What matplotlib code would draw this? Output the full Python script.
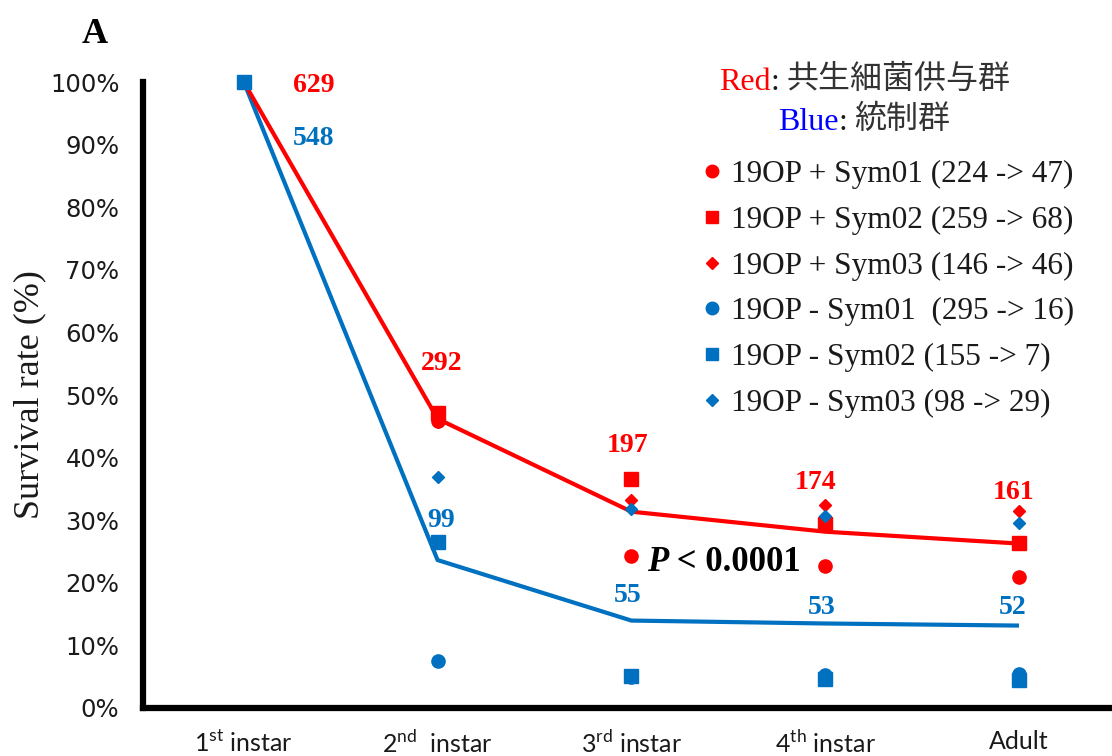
import matplotlib
matplotlib.use("Agg")
import matplotlib.pyplot as plt
from matplotlib.lines import Line2D
import numpy as np

# 発育段階
stages = [r"1$^{\rm st}$ instar", r"2$^{\rm nd}$  instar", r"3$^{\rm rd}$ instar",
          r"4$^{\rm th}$ instar", "Adult"]

# 共生細菌供与群 (red) – 各系統の生存率
sym_plus_01 = [1.000, 0.458, 0.243, 0.227, 0.210]
sym_plus_02 = [1.000, 0.471, 0.366, 0.294, 0.263]
sym_plus_03 = [1.000, 0.457, 0.332, 0.324, 0.315]

# 統制群 (blue)
sym_minus_01 = [1.000, 0.075, 0.050, 0.052, 0.054]
sym_minus_02 = [1.000, 0.265, 0.051, 0.046, 0.045]
sym_minus_03 = [1.000, 0.369, 0.318, 0.307, 0.296]

# 個体数
red_counts = [629, 292, 197, 174, 161]
blue_counts = [548, 99, 55, 53, 52]

legend_labels = [
    "19OP + Sym01 (224 -> 47)",
    "19OP + Sym02 (259 -> 68)",
    "19OP + Sym03 (146 -> 46)",
    "19OP - Sym01  (295 -> 16)",
    "19OP - Sym02 (155 -> 7)",
    "19OP - Sym03 (98 -> 29)",
]

RED = "#FF0000"
BLUE = "#0070C0"
TEXT = "#1a1a1a"
SERIF = "Liberation Serif"

plt.rcParams["mathtext.fontset"] = "custom"
plt.rcParams["mathtext.rm"] = "Lato"

fig = plt.figure(figsize=(11.12, 7.56), dpi=100)
ax = fig.add_axes([0.1286, 0.0635, 0.8714, 0.828])

x = np.arange(len(stages))
red_mean = np.mean([sym_plus_01, sym_plus_02, sym_plus_03], axis=0)
blue_mean = np.mean([sym_minus_01, sym_minus_02, sym_minus_03], axis=0)

ax.plot(x, blue_mean, color=BLUE, lw=3, zorder=2, solid_capstyle="butt")
ax.plot(x, red_mean, color=RED, lw=3, zorder=2, solid_capstyle="butt")

marker_sets = [
    (sym_plus_01, RED, "o", 9.5),
    (sym_plus_03, RED, "D", 6.5),
    (sym_plus_02, RED, "s", 9.5),
    (sym_minus_03, BLUE, "D", 6.5),
    (sym_minus_01, BLUE, "o", 9.5),
    (sym_minus_02, BLUE, "s", 9.5),
]
for vals, col, mk, ms in marker_sets:
    ax.plot(x[1:], vals[1:], ls="none", marker=mk, ms=ms, color=col, mec=col, zorder=3)
ax.plot([0], [1.0], ls="none", marker="s", ms=9.5, color=BLUE, zorder=4)

# 個体数ラベル
red_lbl_pos = [(0.36, 0.995), (1.02, 0.55), (1.98, 0.42), (2.95, 0.36), (3.97, 0.345)]
blue_lbl_pos = [(0.36, 0.91), (1.02, 0.30), (1.98, 0.18), (2.98, 0.16), (3.97, 0.16)]
for (px, py), c in zip(red_lbl_pos, red_counts):
    ax.text(px, py, str(c), color=RED, fontsize=20, fontweight="bold",
            family=SERIF, ha="center", va="center")
for (px, py), c in zip(blue_lbl_pos, blue_counts):
    ax.text(px, py, str(c), color=BLUE, fontsize=20, fontweight="bold",
            family=SERIF, ha="center", va="center")

# 有意差
ax.text(2.19, 0.232, "P", fontsize=25, fontweight="bold", style="italic",
        family=SERIF, ha="right", va="center", color="black")
ax.text(2.19, 0.232, " < 0.0001", fontsize=25, fontweight="bold",
        family=SERIF, ha="left", va="center", color="black")

# 凡例
handles = [Line2D([], [], ls="none", marker=mk, ms=ms, color=col)
           for mk, ms, col in [("o", 9, RED), ("s", 8.5, RED), ("D", 6, RED),
                               ("o", 9, BLUE), ("s", 8.5, BLUE), ("D", 6, BLUE)]]
leg = ax.legend(handles, legend_labels, loc="upper left", bbox_to_anchor=(0.565, 0.895),
                frameon=False, prop={"family": SERIF, "size": 22.5},
                handlelength=0.55, handletextpad=0.35, labelspacing=0.53,
                borderaxespad=0)
for t in leg.get_texts():
    t.set_color(TEXT)

# 群の説明
cjk = ["Noto Sans CJK JP", "DejaVu Sans"]
t1 = ax.text(0.594, 0.999, "Red", transform=ax.transAxes, color=RED, fontsize=23,
             family=SERIF, ha="left", va="center")
t2 = ax.annotate(":", xy=(1, 0), xycoords=t1, ha="left", va="bottom",
                 fontsize=23, family=SERIF, color=TEXT)
ax.annotate("共生細菌供与群", xy=(1, 0.08), xycoords=t2, xytext=(5, 0),
            textcoords="offset points", ha="left", va="bottom",
            fontsize=23, family=cjk, color="#333333")
b1 = ax.text(0.655, 0.935, "Blue", transform=ax.transAxes, color="#0000FF", fontsize=23,
             family=SERIF, ha="left", va="center")
b2 = ax.annotate(":", xy=(1, 0), xycoords=b1, ha="left", va="bottom",
                 fontsize=23, family=SERIF, color=TEXT)
ax.annotate("統制群", xy=(1, 0.08), xycoords=b2, xytext=(5, 0),
            textcoords="offset points", ha="left", va="bottom",
            fontsize=23, family=cjk, color="#333333")

# 軸
ax.set_xlim(-0.52, 4.48)
ax.set_ylim(0, 1.0)
ax.set_yticks(np.arange(0, 1.01, 0.1))
ax.set_yticklabels([f"{int(round(v * 100))}%" for v in np.arange(0, 1.01, 0.1)],
                   family="DejaVu Sans", fontsize=17.5, color=TEXT)
ax.set_xticks(x)
ax.set_xticklabels(stages, family="Lato", fontsize=18, color=TEXT)
ax.tick_params(axis="y", length=0, pad=17)
ax.tick_params(axis="x", length=0, pad=16)
for s in ["top", "right"]:
    ax.spines[s].set_visible(False)
for s in ["left", "bottom"]:
    ax.spines[s].set_linewidth(4.5)
    ax.spines[s].set_color("black")
ax.spines["left"].set_capstyle("projecting")
for ln in ax.lines:
    ln.set_clip_on(False)

fig.text(0.027, 0.478, "Survival rate (%)", rotation=90, family=SERIF,
         fontsize=26, ha="center", va="center", color=TEXT)
fig.text(0.085, 0.955, "A", family=SERIF, fontsize=26, fontweight="bold",
         ha="center", va="center", color="black")

fig.savefig("out.png", dpi=100, facecolor="white")
